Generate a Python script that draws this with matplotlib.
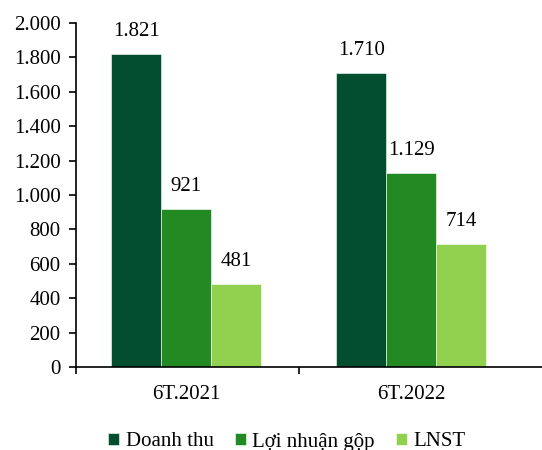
import numpy as np
import matplotlib.pyplot as plt
from matplotlib.ticker import FuncFormatter

plt.rcParams["font.family"] = ["Liberation Serif", "DejaVu Serif"]

periods = ["6T.2021", "6T.2022"]
series_names = ["Doanh thu", "Lợi nhuận gộp", "LNST"]
doanh_thu = [1821, 1710]
loi_nhuan_gop = [921, 1129]
lnst = [481, 714]
colors = ["#034E2F", "#238A23", "#92D050"]


def vn_fmt(v, pos=None):
    return f"{int(round(v)):,}".replace(",", ".")


fig = plt.figure(figsize=(5.42, 4.5), dpi=100)
# axis runs off the right edge of the figure
ax = fig.add_axes([76 / 542, 83 / 450, 470 / 542, 344 / 450])

x = np.arange(len(periods))
width = 0.222
for i, (vals, name, c) in enumerate(zip([doanh_thu, loi_nhuan_gop, lnst], series_names, colors)):
    bars = ax.bar(x + (i - 1) * width, vals, width, color=c, label=name,
                  edgecolor="white", linewidth=0.4)
    for b, v in zip(bars, vals):
        ax.text(b.get_x() + b.get_width() / 2, v + 75, vn_fmt(v),
                ha="center", va="bottom", fontsize=15)

x0 = -0.49
ax.set_xlim(x0, x0 + 470 / 225)
ax.set_ylim(0, 2000)
ax.set_yticks(np.arange(0, 2001, 200))
ax.yaxis.set_major_formatter(FuncFormatter(vn_fmt))
ax.set_xticks(x)
ax.set_xticklabels(periods)
ax.set_xticks([x0, 0.5], minor=True)
ax.tick_params(axis="x", which="major", length=0, pad=13, labelsize=15)
ax.tick_params(axis="x", which="minor", length=5, width=1.2, direction="out")
ax.tick_params(axis="y", length=5, width=1.2, direction="out", labelsize=15, pad=6)

for s in ["top", "right"]:
    ax.spines[s].set_visible(False)
for s in ["left", "bottom"]:
    ax.spines[s].set_linewidth(1.2)

fig.legend(loc="lower center", bbox_to_anchor=(0.529, -0.045), ncol=3, frameon=False,
           fontsize=15, handlelength=0.55, handleheight=0.55, handletextpad=0.3,
           columnspacing=1.0)

fig.savefig("out.png", dpi=100)
